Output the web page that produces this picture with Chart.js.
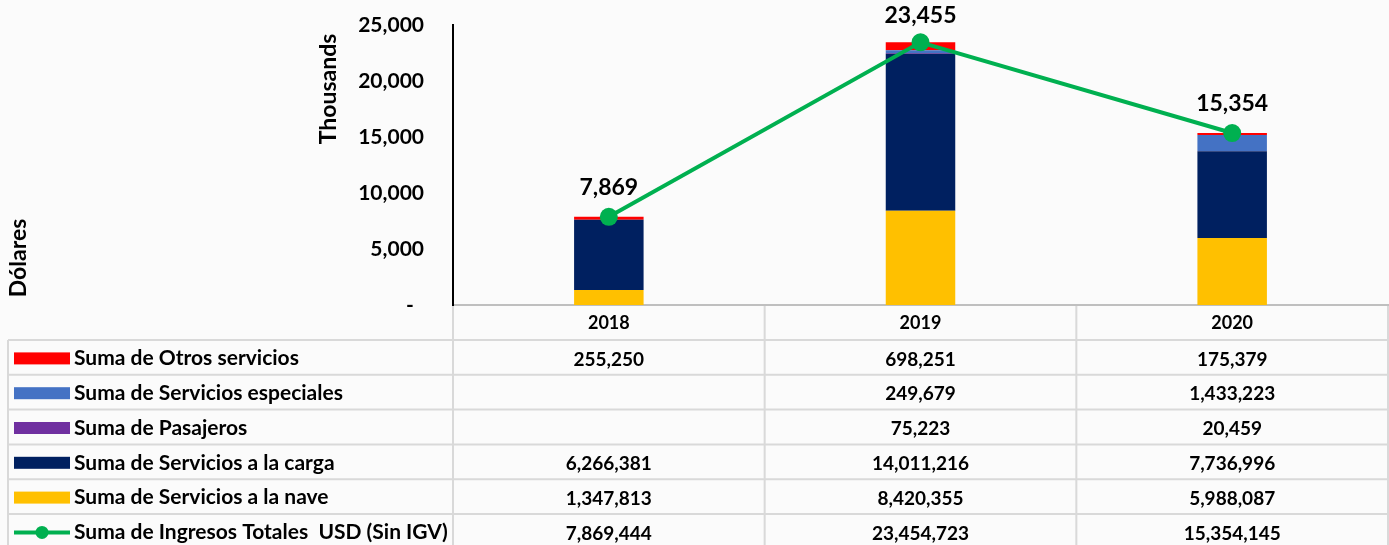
<!DOCTYPE html>
<html>
<head>
<meta charset="utf-8">
<script src="https://cdn.jsdelivr.net/npm/chart.js@4/dist/chart.umd.min.js"></script>
<style>
  html, body { margin: 0; padding: 0; background: #fbfbfb; overflow: hidden; }
  #wrap { position: relative; width: 1397px; height: 545px; }
  canvas { display: block; }
</style>
</head>
<body>
<div id="wrap"><canvas id="c" width="1397" height="545"></canvas></div>
<script>
// Ingresos por año (USD)
const years = ['2018', '2019', '2020'];
const naveValues = [1347813, 8420355, 5988087];
const cargaValues = [6266381, 14011216, 7736996];
const pasajerosValues = [null, 75223, 20459];
const especialesValues = [null, 249679, 1433223];
const otrosValues = [255250, 698251, 175379];
const totalValues = [7869444, 23454723, 15354145];

const yMin = 0;
const yMax = 25000000;
const yStep = 5000000;

const FONT = "Lato, 'Open Sans', sans-serif";
const C_NAVE = '#FFC000';
const C_CARGA = '#002060';
const C_PASAJEROS = '#7030A0';
const C_ESPECIALES = '#4472C4';
const C_OTROS = '#FF0000';
const C_TOTAL = '#00B050';
const GRID = '#d9d9d9';

const fmt = v => (v === null || v === undefined) ? '' : Math.round(v).toLocaleString('en-US');

// Table rows shown under the plot, top to bottom
const tableRows = [
  { label: 'Suma de Otros servicios', values: otrosValues, color: C_OTROS },
  { label: 'Suma de Servicios especiales', values: especialesValues, color: C_ESPECIALES },
  { label: 'Suma de Pasajeros', values: pasajerosValues, color: C_PASAJEROS },
  { label: 'Suma de Servicios a la carga', values: cargaValues, color: C_CARGA },
  { label: 'Suma de Servicios a la nave', values: naveValues, color: C_NAVE },
  { label: 'Suma de Ingresos Totales  USD (Sin IGV)', values: totalValues, color: C_TOTAL, line: true }
];

const barCommon = { type: 'bar', order: 1, stack: 'ingresos', barPercentage: 0.223, categoryPercentage: 1 };

// Axis titles
const axisTitles = {
  id: 'axisTitles',
  afterDraw(chart) {
    const ctx = chart.ctx;
    const drawRotated = (text, x, y, size) => {
      ctx.save();
      ctx.fillStyle = '#000';
      ctx.font = `bold ${size}px ${FONT}`;
      ctx.textAlign = 'center';
      ctx.textBaseline = 'middle';
      ctx.translate(x, y);
      ctx.rotate(-Math.PI / 2);
      ctx.fillText(text, 0, 0);
      ctx.restore();
    };
    drawRotated('Thousands', 329, 89, 23);
    drawRotated('Dólares', 19, 258, 23);
  }
};

// Value labels above the total line (in thousands)
const totalLabels = {
  id: 'totalLabels',
  afterDatasetsDraw(chart) {
    const ctx = chart.ctx;
    const idx = chart.data.datasets.findIndex(d => d.type === 'line');
    const meta = chart.getDatasetMeta(idx);
    ctx.save();
    ctx.fillStyle = '#000';
    ctx.font = `bold 23px ${FONT}`;
    ctx.textAlign = 'center';
    ctx.textBaseline = 'middle';
    meta.data.forEach((pt, i) => {
      ctx.fillText(fmt(totalValues[i] / 1000), pt.x, Math.max(pt.y - 29, 16));
    });
    ctx.restore();
  }
};

// Data table below the plot area
const dataTable = {
  id: 'dataTable',
  afterDraw(chart) {
    const ctx = chart.ctx;
    const xs = chart.scales.x;
    const area = chart.chartArea;
    const colW = (xs.right - xs.left) / years.length;
    const top = area.bottom;
    const headerH = 35;
    const rowH = 34.8;
    const leftX = 8;
    const bottomY = top + headerH + rowH * tableRows.length + 4;

    ctx.save();
    ctx.strokeStyle = GRID;
    ctx.lineWidth = 2;
    ctx.beginPath();
    for (let i = 0; i < tableRows.length; i++) {
      const y = top + headerH + rowH * i;
      ctx.moveTo(leftX, y); ctx.lineTo(xs.right + 10, y);
    }
    ctx.moveTo(leftX, top + headerH); ctx.lineTo(leftX, bottomY);
    for (let j = 0; j <= years.length; j++) {
      const x = xs.left + colW * j;
      ctx.moveTo(x, top + 1); ctx.lineTo(x, bottomY);
    }
    ctx.stroke();

    // header (years)
    ctx.fillStyle = '#000';
    ctx.textAlign = 'center';
    ctx.textBaseline = 'middle';
    ctx.font = `bold 18px ${FONT}`;
    years.forEach((y, j) => ctx.fillText(y, xs.getPixelForValue(j), top + headerH / 2 + 1));

    tableRows.forEach((row, i) => {
      const cy = top + headerH + rowH * i + rowH / 2 + 1;
      // legend key
      if (row.line) {
        ctx.strokeStyle = row.color;
        ctx.lineWidth = 4;
        ctx.beginPath(); ctx.moveTo(14, cy); ctx.lineTo(70, cy); ctx.stroke();
        ctx.fillStyle = row.color;
        ctx.beginPath(); ctx.arc(42, cy, 6.5, 0, Math.PI * 2); ctx.fill();
      } else {
        ctx.fillStyle = row.color;
        ctx.fillRect(14, cy - 6, 56, 12);
      }
      ctx.fillStyle = '#000';
      ctx.font = `bold 21px ${FONT}`;
      ctx.textAlign = 'left';
      ctx.fillText(row.label, 74, cy);
      ctx.textAlign = 'center';
      ctx.font = `bold 19px ${FONT}`;
      row.values.forEach((v, j) => ctx.fillText(fmt(v), xs.getPixelForValue(j), cy + 1));
    });
    ctx.restore();
  }
};

new Chart(document.getElementById('c'), {
  data: {
    labels: years,
    datasets: [
      { ...barCommon, label: 'Suma de Servicios a la nave', data: naveValues, backgroundColor: C_NAVE },
      { ...barCommon, label: 'Suma de Servicios a la carga', data: cargaValues, backgroundColor: C_CARGA },
      { ...barCommon, label: 'Suma de Pasajeros', data: pasajerosValues, backgroundColor: C_PASAJEROS },
      { ...barCommon, label: 'Suma de Servicios especiales', data: especialesValues, backgroundColor: C_ESPECIALES },
      { ...barCommon, label: 'Suma de Otros servicios', data: otrosValues, backgroundColor: C_OTROS },
      {
        type: 'line', order: 0, stack: 'total',
        label: 'Suma de Ingresos Totales  USD (Sin IGV)', data: totalValues,
        borderColor: C_TOTAL, backgroundColor: C_TOTAL, borderWidth: 4,
        pointRadius: 9, pointHoverRadius: 9, pointBackgroundColor: C_TOTAL, pointBorderWidth: 0,
        tension: 0
      }
    ]
  },
  options: {
    responsive: false,
    animation: false,
    layout: { padding: { top: 25, left: 0, right: 0, bottom: 0 } },
    plugins: { legend: { display: false }, tooltip: { enabled: false } },
    scales: {
      x: {
        stacked: true,
        grid: { display: false, drawTicks: false },
        border: { display: true, color: '#bfbfbf', width: 2 },
        ticks: { display: false },
        afterFit(scale) { scale.height = 240; }
      },
      y: {
        stacked: true,
        min: yMin, max: yMax,
        grid: { display: false, drawTicks: true, tickLength: 29 },
        border: { display: true, color: '#000', width: 2 },
        ticks: {
          stepSize: yStep,
          padding: 0,
          color: '#000',
          font: { family: FONT, size: 21, weight: 'bold' },
          callback: v => v === 0 ? '-  ' : fmt(v / 1000)
        },
        afterFit(scale) { scale.width = 453; }
      }
    }
  },
  plugins: [axisTitles, totalLabels, dataTable]
});
</script>
</body>
</html>
